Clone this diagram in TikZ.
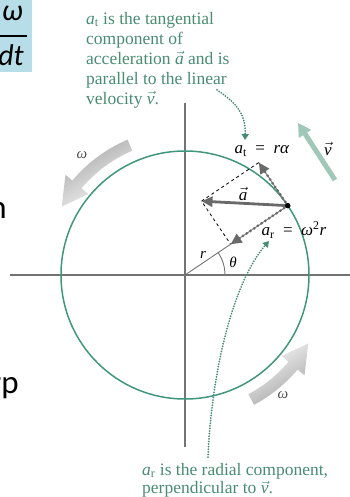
\documentclass[tikz,border=0pt]{standalone}
\usepackage{amsmath}
\usepackage{fontspec}
\setmainfont{Liberation Serif}
\newfontfamily\slidefont{Carlito}
\usetikzlibrary{arrows.meta,calc}

\definecolor{rimteal}{RGB}{64,150,125}
\definecolor{noteteal}{RGB}{72,140,115}
\definecolor{velteal}{RGB}{160,200,185}
\definecolor{axisgray}{RGB}{115,115,115}
\definecolor{vecgray}{RGB}{105,105,105}
\definecolor{slideblue}{RGB}{183,222,232}

\tikzset{
  note/.style={noteteal,align=left,inner sep=0pt,font=\fontsize{17.5}{20}\selectfont},
  lbl/.style={inner sep=1pt,font=\fontsize{17}{19}\selectfont},
  wlbl/.style={inner sep=1pt,text=black!70,font=\fontsize{15}{17}\selectfont\itshape},
  dotlink/.style={noteteal,line width=2pt,dash pattern=on 0pt off 2.6pt,line cap=round,-{Triangle[width=7pt,length=6pt]}},
  comp/.style={vecgray,line width=3pt,dash pattern=on 0pt off 4.5pt,line cap=round,-{Triangle[width=10pt,length=11pt]}},
  slidetext/.style={inner sep=0pt,font=\slidefont\fontsize{33}{36}\selectfont}
}

\begin{document}
\begin{tikzpicture}[x=1pt,y=1pt,line join=round]
  \useasboundingbox (-185,-222) rectangle (165,275);
  \clip (-185,-222) rectangle (165,275);
  \coordinate (O) at (0,0);
  \coordinate (P) at (34:124);
  \coordinate (At) at ($(P)+(124:52)$);
  \coordinate (Ar) at ($(P)+(214:69)$);
  \coordinate (A) at ($(At)+(214:69)$);
  % pieces of the slide behind
  \fill[slideblue] (-185,275) rectangle (-153,203);
  \node[slidetext,font=\slidefont\itshape\fontsize{30}{30}\selectfont,anchor=east] (fracw) at (-162,262) {ω};
  \node[slidetext,font=\slidefont\itshape\fontsize{30}{30}\selectfont,anchor=east] (fracdt) at (-161,220) {dt};
  \draw[line width=1.3pt] (-185,239) -- (-158,239);
  \node[slidetext,anchor=base east] (cutn) at (-178,56) {n};
  \node[slidetext,anchor=base east] (cutrp) at (-166,-118) {rp};
  % axes and rim
  \draw[axisgray,line width=1.3pt] (-175,0) -- (165,0);
  \draw[axisgray,line width=1.3pt] (0,172) -- (0,-172);
  \draw[rimteal,line width=1.5pt] (O) circle (124);
  % omega arrows
  \shade[left color=gray!70,right color=gray!5,shading angle=30] (113:135) arc[start angle=113,end angle=140,radius=135] -- (140:126) -- (151:141) -- (140:156) -- (140:147) arc[start angle=140,end angle=113,radius=147] -- cycle;
  \shade[left color=gray!5,right color=gray!70,shading angle=30] (-62:135) arc[start angle=-62,end angle=-40,radius=135] -- (-40:126) -- (-29:141) -- (-40:156) -- (-40:147) arc[start angle=-40,end angle=-62,radius=147] -- cycle;
  \node[wlbl] (wtop) at (-103,120) {ω};
  \node[wlbl] (wbot) at (98,-120) {ω};
  % radius and angle
  \draw[axisgray,line width=0.9pt] (O) -- (Ar);
  \draw[axisgray,line width=0.9pt] (40,0) arc[start angle=0,end angle=34,radius=40];
  \node[lbl,font=\fontsize{15}{17}\selectfont\itshape] (rlab) at (18,20) {r};
  \node[lbl,font=\fontsize{15}{17}\selectfont\itshape] (thlab) at (48,13) {θ};
  % acceleration and its parts
  \draw[dashed,line width=0.8pt] (At) -- (A) -- (Ar);
  \draw[gray,line width=1pt] (P) -- (At) (P) -- (Ar);
  \draw[comp] (P) -- (At);
  \draw[comp] (P) -- (Ar);
  \draw[vecgray,line width=2.8pt,-{Triangle[width=10pt,length=11pt]}] (P) -- (A);
  \fill (P) circle (2.7);
  \node[lbl] (alab) at (58,81) {$\vec{\textit{a}}$};
  \node[lbl] (atlab) at (77,124) {\textit{a}\textsubscript{t}\enspace=\enspace\textit{rα}};
  \node[lbl] (arlab) at (109,45) {\textit{a}\textsubscript{r}\enspace=\enspace\textit{ω}\textsuperscript{2}\textit{r}};
  % velocity
  \coordinate (Vs) at (150,95);
  \coordinate (Ve) at (113,152);
  \draw[velteal,line width=5pt,-{Triangle[width=14pt,length=13pt]}] (Vs) -- (Ve);
  \node[lbl] (vlab) at (143,126) {$\vec{\textit{v}}$};
  % notes
  \node[note,anchor=north west] (tnote) at (-99,263) {\textit{a}\textsubscript{t} is the tangential\\component of\\acceleration $\vec{\textit{a}}$ and is\\parallel to the linear\\velocity $\vec{\textit{v}}$.};
  \node[note,font=\fontsize{17.5}{18.5}\selectfont,anchor=north west] (bnote) at (-43,-188) {\textit{a}\textsubscript{r} is the radial component,\\perpendicular to $\vec{\textit{v}}$.};
  \coordinate (tlink) at (32,185);
  \coordinate (tend) at (60,135);
  \coordinate (blink) at (23,-182);
  \coordinate (bend) at (84,34);
  \draw[dotlink] (tlink) .. controls (52,172) and (61,160) .. (tend);
  \draw[dotlink] (blink) .. controls (27,-90) and (50,-5) .. (bend);
\end{tikzpicture}
\end{document}
